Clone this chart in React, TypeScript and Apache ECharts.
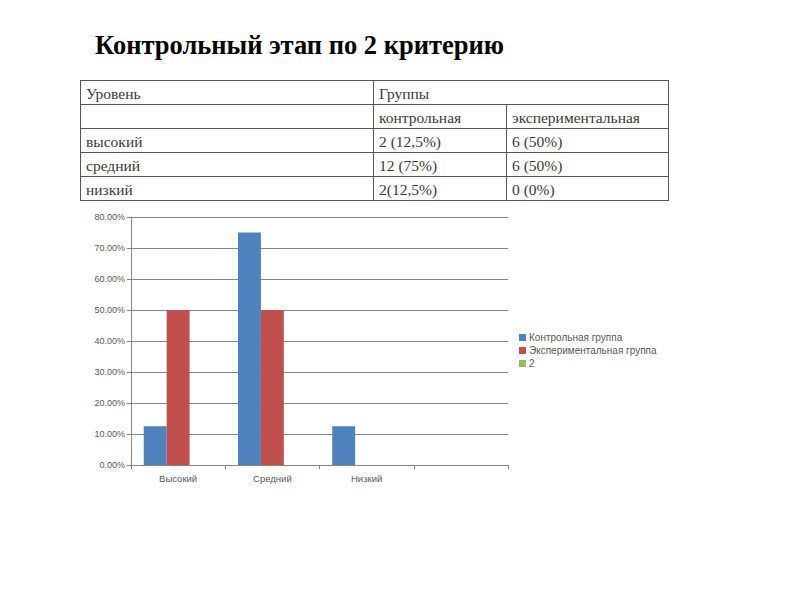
import React, { useEffect, useRef } from "react";
import * as echarts from "echarts";

const titleText = "Контрольный этап по 2 критерию";

const tableHeader1 = ["Уровень", "Группы"];
const tableHeader2 = ["", "контрольная", "экспериментальная"];
const tableRows = [
  ["высокий", "2 (12,5%)", "6 (50%)"],
  ["средний", "12 (75%)", "6 (50%)"],
  ["низкий", "2(12,5%)", "0 (0%)"],
];

const categories = ["Высокий", "Средний", "Низкий", ""];
const seriesNames = ["Контрольная группа", "Экспериментальная группа", "2"];
const controlValues = [0.125, 0.75, 0.125, null];
const experimentalValues = [0.5, 0.5, 0, null];
const thirdValues = [null, null, null, null];

export default function App() {
  const ref = useRef<HTMLDivElement>(null);
  useEffect(() => {
    if (!ref.current) return;
    const chart = echarts.init(ref.current, undefined, { renderer: "svg" });

    // table geometry
    const tx0 = 80, tx1 = 373, tx2 = 506, tx3 = 668;
    const rowsY = [80, 104, 128, 152, 176, 200];
    const lineStyle = { stroke: "#555", lineWidth: 1 };
    const g: any[] = [];
    const hline = (y: number, x1: number, x2: number) =>
      g.push({ type: "line", shape: { x1, y1: y + 0.5, x2, y2: y + 0.5 }, style: lineStyle, silent: true });
    const vline = (x: number, y1: number, y2: number) =>
      g.push({ type: "line", shape: { x1: x + 0.5, y1, x2: x + 0.5, y2 }, style: lineStyle, silent: true });
    rowsY.forEach((y) => hline(y, tx0, tx3 + 1));
    vline(tx0, rowsY[0], rowsY[5] + 1);
    vline(tx1, rowsY[0], rowsY[5] + 1);
    vline(tx2, rowsY[1], rowsY[5] + 1);
    vline(tx3, rowsY[0], rowsY[5] + 1);
    const cellText = (text: string, x: number, yc: number) =>
      g.push({
        type: "text",
        x: x + 6,
        y: yc,
        style: {
          text,
          fill: "#3a3a3a",
          font: "15.5px 'Liberation Serif', serif",
          verticalAlign: "middle",
          align: "left",
        },
        silent: true,
      });
    const colX = [tx0, tx1, tx2];
    const mid = (i: number) => (rowsY[i] + rowsY[i + 1]) / 2 + 1;
    tableHeader1.forEach((t, i) => cellText(t, colX[i], mid(0)));
    tableHeader2.forEach((t, i) => t && cellText(t, colX[i], mid(1)));
    tableRows.forEach((row, r) => row.forEach((t, i) => cellText(t, colX[i], mid(r + 2))));

    g.push({
      type: "text",
      x: 95,
      y: 45,
      style: {
        text: titleText,
        fill: "#000",
        font: "bold 26.5px 'Liberation Serif', serif",
        verticalAlign: "middle",
        align: "left",
      },
      silent: true,
    });

    const axisColor = "#868686";
    const labelFont = { fontFamily: "'Liberation Sans', Arial, sans-serif", fontSize: 9, color: "#595959" };

    chart.setOption({
      animation: false,
      graphic: g,
      grid: { left: 131, top: 217, width: 377, height: 248, containLabel: false },
      legend: {
        orient: "vertical",
        left: 514,
        top: 327,
        itemWidth: 7,
        itemHeight: 7,
        itemGap: 2,
        icon: "rect",
        textStyle: { ...labelFont, fontSize: 10, lineHeight: 11, padding: [0, 0, 0, -2] },
        data: seriesNames,
      },
      xAxis: {
        type: "category",
        data: categories,
        axisLine: { lineStyle: { color: axisColor, width: 1 } },
        axisTick: { show: true, length: 4, interval: 0, lineStyle: { color: axisColor } },
        axisLabel: { ...labelFont, fontSize: 9.5, margin: 8, interval: 0 },
      },
      yAxis: {
        type: "value",
        min: 0,
        max: 0.8,
        interval: 0.1,
        axisLine: { show: true, lineStyle: { color: axisColor, width: 1 } },
        axisTick: { show: true, length: 4, lineStyle: { color: axisColor } },
        axisLabel: { ...labelFont, margin: 6, formatter: (v: number) => (v * 100).toFixed(2) + "%" },
        splitLine: { show: true, lineStyle: { color: axisColor, width: 1 } },
      },
      series: [
        {
          name: seriesNames[0],
          type: "bar",
          data: controlValues,
          barGap: "0%",
          barCategoryGap: "27%",
          itemStyle: { color: "#4F81BD" },
        },
        {
          name: seriesNames[1],
          type: "bar",
          data: experimentalValues,
          itemStyle: { color: "#C0504D" },
        },
        {
          name: seriesNames[2],
          type: "bar",
          data: thirdValues,
          itemStyle: { color: "#9BBB59" },
        },
      ],
    });
    return () => chart.dispose();
  }, []);
  return (
    <div
      ref={ref}
      style={{ position: "fixed", left: 0, top: 0, width: 800, height: 600, background: "#fff" }}
    />
  );
}
